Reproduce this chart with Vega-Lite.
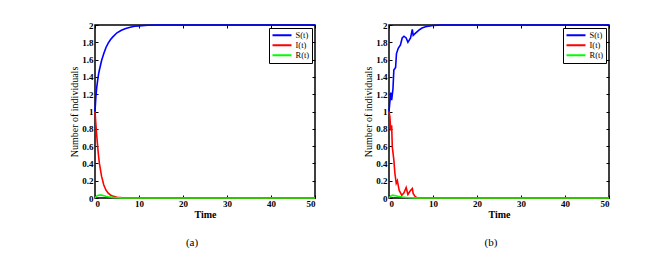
{
  "$schema": "https://vega.github.io/schema/vega-lite/v6.json",
  "background": "white",
  "padding": {"left": 69, "top": 20, "right": 5, "bottom": 5},
  "spacing": 44,
  "config": {
    "font": "Liberation Serif",
    "view": {"stroke": "black", "strokeWidth": 1.5},
    "axis": {
      "grid": false,
      "domain": false,
      "tickColor": "black",
      "tickSize": -3,
      "labelFont": "Liberation Serif",
      "labelFontSize": 9,
      "labelFontWeight": "bold",
      "labelColor": "black",
      "titleFont": "Liberation Serif",
      "titleFontSize": 10,
      "titleColor": "black"
    },
    "legend": {
      "orient": "top-right", "offset": 3, "title": null, "strokeColor": "black", "fillColor": "white",
      "padding": 2.5, "symbolType": "stroke", "symbolSize": 361, "symbolStrokeWidth": 2, "clipHeight": 9.3,
      "labelOffset": 3, "labelFont": "Liberation Serif", "labelFontSize": 8.5, "labelColor": "black", "rowPadding": 0
    }
  },
  "datasets": {
    "a": [
      {"t": 0, "series": "S(t)", "v": 1.0}, {"t": 0.2, "series": "S(t)", "v": 1.17}, {"t": 0.4, "series": "S(t)", "v": 1.28},
      {"t": 0.6, "series": "S(t)", "v": 1.36}, {"t": 0.8, "series": "S(t)", "v": 1.43}, {"t": 1, "series": "S(t)", "v": 1.48},
      {"t": 1.5, "series": "S(t)", "v": 1.59}, {"t": 2, "series": "S(t)", "v": 1.67}, {"t": 2.5, "series": "S(t)", "v": 1.74},
      {"t": 3, "series": "S(t)", "v": 1.79}, {"t": 3.5, "series": "S(t)", "v": 1.83}, {"t": 4, "series": "S(t)", "v": 1.86},
      {"t": 5, "series": "S(t)", "v": 1.91}, {"t": 6, "series": "S(t)", "v": 1.94}, {"t": 7, "series": "S(t)", "v": 1.96},
      {"t": 8, "series": "S(t)", "v": 1.975}, {"t": 9, "series": "S(t)", "v": 1.985}, {"t": 10, "series": "S(t)", "v": 1.99},
      {"t": 12, "series": "S(t)", "v": 1.997}, {"t": 14, "series": "S(t)", "v": 2.0}, {"t": 50, "series": "S(t)", "v": 2.0},
      {"t": 0, "series": "I(t)", "v": 1.0}, {"t": 0.2, "series": "I(t)", "v": 0.85}, {"t": 0.4, "series": "I(t)", "v": 0.72},
      {"t": 0.6, "series": "I(t)", "v": 0.6}, {"t": 0.8, "series": "I(t)", "v": 0.49}, {"t": 1, "series": "I(t)", "v": 0.4},
      {"t": 1.5, "series": "I(t)", "v": 0.25}, {"t": 2, "series": "I(t)", "v": 0.15}, {"t": 2.5, "series": "I(t)", "v": 0.09},
      {"t": 3, "series": "I(t)", "v": 0.055}, {"t": 3.5, "series": "I(t)", "v": 0.035}, {"t": 4, "series": "I(t)", "v": 0.022},
      {"t": 5, "series": "I(t)", "v": 0.009}, {"t": 6, "series": "I(t)", "v": 0.004}, {"t": 7, "series": "I(t)", "v": 0.002},
      {"t": 8, "series": "I(t)", "v": 0.001}, {"t": 10, "series": "I(t)", "v": 0.0}, {"t": 50, "series": "I(t)", "v": 0.0},
      {"t": 0, "series": "R(t)", "v": 0.0}, {"t": 0.3, "series": "R(t)", "v": 0.02}, {"t": 0.6, "series": "R(t)", "v": 0.03},
      {"t": 1, "series": "R(t)", "v": 0.035}, {"t": 1.5, "series": "R(t)", "v": 0.033}, {"t": 2, "series": "R(t)", "v": 0.027},
      {"t": 2.5, "series": "R(t)", "v": 0.02}, {"t": 3, "series": "R(t)", "v": 0.014}, {"t": 4, "series": "R(t)", "v": 0.007},
      {"t": 5, "series": "R(t)", "v": 0.003}, {"t": 6, "series": "R(t)", "v": 0.001}, {"t": 8, "series": "R(t)", "v": 0.0},
      {"t": 50, "series": "R(t)", "v": 0.0}
    ],
    "b": [
      {"t": 0, "series": "S(t)", "v": 1.0}, {"t": 0.4, "series": "S(t)", "v": 1.22}, {"t": 0.6, "series": "S(t)", "v": 1.13},
      {"t": 0.9, "series": "S(t)", "v": 1.26}, {"t": 1.1, "series": "S(t)", "v": 1.48}, {"t": 1.5, "series": "S(t)", "v": 1.51},
      {"t": 1.7, "series": "S(t)", "v": 1.67}, {"t": 2.1, "series": "S(t)", "v": 1.73}, {"t": 2.6, "series": "S(t)", "v": 1.77},
      {"t": 3.0, "series": "S(t)", "v": 1.85}, {"t": 3.4, "series": "S(t)", "v": 1.87}, {"t": 3.9, "series": "S(t)", "v": 1.85},
      {"t": 4.3, "series": "S(t)", "v": 1.8}, {"t": 4.9, "series": "S(t)", "v": 1.85}, {"t": 5.3, "series": "S(t)", "v": 1.95},
      {"t": 5.5, "series": "S(t)", "v": 1.88}, {"t": 5.9, "series": "S(t)", "v": 1.9}, {"t": 6.8, "series": "S(t)", "v": 1.94},
      {"t": 7.5, "series": "S(t)", "v": 1.965}, {"t": 8.3, "series": "S(t)", "v": 1.98}, {"t": 10, "series": "S(t)", "v": 1.995},
      {"t": 12, "series": "S(t)", "v": 2.0}, {"t": 50, "series": "S(t)", "v": 2.0},
      {"t": 0, "series": "I(t)", "v": 1.0}, {"t": 0.2, "series": "I(t)", "v": 0.94}, {"t": 0.4, "series": "I(t)", "v": 0.78},
      {"t": 0.6, "series": "I(t)", "v": 0.84}, {"t": 0.75, "series": "I(t)", "v": 0.59}, {"t": 1.1, "series": "I(t)", "v": 0.44},
      {"t": 1.35, "series": "I(t)", "v": 0.28}, {"t": 1.65, "series": "I(t)", "v": 0.17}, {"t": 1.9, "series": "I(t)", "v": 0.2},
      {"t": 2.3, "series": "I(t)", "v": 0.09}, {"t": 2.9, "series": "I(t)", "v": 0.03}, {"t": 3.4, "series": "I(t)", "v": 0.06},
      {"t": 3.9, "series": "I(t)", "v": 0.12}, {"t": 4.3, "series": "I(t)", "v": 0.04}, {"t": 4.8, "series": "I(t)", "v": 0.08},
      {"t": 5.3, "series": "I(t)", "v": 0.11}, {"t": 5.5, "series": "I(t)", "v": 0.05}, {"t": 5.9, "series": "I(t)", "v": 0.02},
      {"t": 6.4, "series": "I(t)", "v": 0.0}, {"t": 50, "series": "I(t)", "v": 0.0},
      {"t": 0, "series": "R(t)", "v": 0.0}, {"t": 0.3, "series": "R(t)", "v": 0.02}, {"t": 0.7, "series": "R(t)", "v": 0.03},
      {"t": 1, "series": "R(t)", "v": 0.03}, {"t": 1.5, "series": "R(t)", "v": 0.027}, {"t": 2, "series": "R(t)", "v": 0.02},
      {"t": 3, "series": "R(t)", "v": 0.012}, {"t": 4, "series": "R(t)", "v": 0.006}, {"t": 5, "series": "R(t)", "v": 0.003},
      {"t": 6, "series": "R(t)", "v": 0.001}, {"t": 8, "series": "R(t)", "v": 0.0}, {"t": 50, "series": "R(t)", "v": 0.0}
    ]
  },
  "hconcat": [
    {
      "width": 220, "height": 173,
      "data": {"name": "a"},
      "title": {"text": "(a)", "orient": "bottom", "offset": 18, "dx": -13, "fontSize": 11, "fontWeight": "normal", "font": "Liberation Serif", "color": "black"},
      "layer": [
        {
          "mark": {"type": "line", "strokeWidth": 1.6},
          "encoding": {
            "x": {"field": "t", "type": "quantitative", "scale": {"domain": [0, 50], "nice": false}, "axis": {"values": [0, 10, 20, 30, 40, 50], "title": "Time", "titleFontWeight": "bold", "titlePadding": 1, "labelPadding": 4}},
            "y": {"field": "v", "type": "quantitative", "scale": {"domain": [0, 2], "nice": false}, "axis": {"values": [0, 0.2, 0.4, 0.6, 0.8, 1, 1.2, 1.4, 1.6, 1.8, 2], "format": "~g", "title": "Number of individuals", "titleFontWeight": "normal", "titlePadding": 2, "labelPadding": 5}},
            "color": {"field": "series", "type": "nominal", "sort": ["S(t)", "I(t)", "R(t)"], "scale": {"domain": ["S(t)", "I(t)", "R(t)"], "range": ["#0000ff", "#ff0000", "#00ff00"]}}
          }
        },
        {
          "mark": {"type": "line", "opacity": 0},
          "encoding": {
            "x": {"field": "t", "type": "quantitative", "axis": {"orient": "top", "values": [0, 10, 20, 30, 40, 50], "labels": false, "title": null}},
            "y": {"field": "v", "type": "quantitative", "axis": {"orient": "right", "values": [0, 0.2, 0.4, 0.6, 0.8, 1, 1.2, 1.4, 1.6, 1.8, 2], "labels": false, "title": null}}
          }
        }
      ],
      "resolve": {"axis": {"x": "independent", "y": "independent"}}
    },
    {
      "width": 220, "height": 173,
      "data": {"name": "b"},
      "title": {"text": "(b)", "orient": "bottom", "offset": 18, "dx": -8, "fontSize": 11, "fontWeight": "normal", "font": "Liberation Serif", "color": "black"},
      "layer": [
        {
          "mark": {"type": "line", "strokeWidth": 1.6},
          "encoding": {
            "x": {"field": "t", "type": "quantitative", "scale": {"domain": [0, 50], "nice": false}, "axis": {"values": [0, 10, 20, 30, 40, 50], "title": "Time", "titleFontWeight": "bold", "titlePadding": 1, "labelPadding": 4}},
            "y": {"field": "v", "type": "quantitative", "scale": {"domain": [0, 2], "nice": false}, "axis": {"values": [0, 0.2, 0.4, 0.6, 0.8, 1, 1.2, 1.4, 1.6, 1.8, 2], "format": "~g", "title": "Number of individuals", "titleFontWeight": "normal", "titlePadding": 2, "labelPadding": 5}},
            "color": {"field": "series", "type": "nominal", "sort": ["S(t)", "I(t)", "R(t)"], "scale": {"domain": ["S(t)", "I(t)", "R(t)"], "range": ["#0000ff", "#ff0000", "#00ff00"]}}
          }
        },
        {
          "mark": {"type": "line", "opacity": 0},
          "encoding": {
            "x": {"field": "t", "type": "quantitative", "axis": {"orient": "top", "values": [0, 10, 20, 30, 40, 50], "labels": false, "title": null}},
            "y": {"field": "v", "type": "quantitative", "axis": {"orient": "right", "values": [0, 0.2, 0.4, 0.6, 0.8, 1, 1.2, 1.4, 1.6, 1.8, 2], "labels": false, "title": null}}
          }
        }
      ],
      "resolve": {"axis": {"x": "independent", "y": "independent"}}
    }
  ],
  "resolve": {"legend": {"color": "independent"}}
}
